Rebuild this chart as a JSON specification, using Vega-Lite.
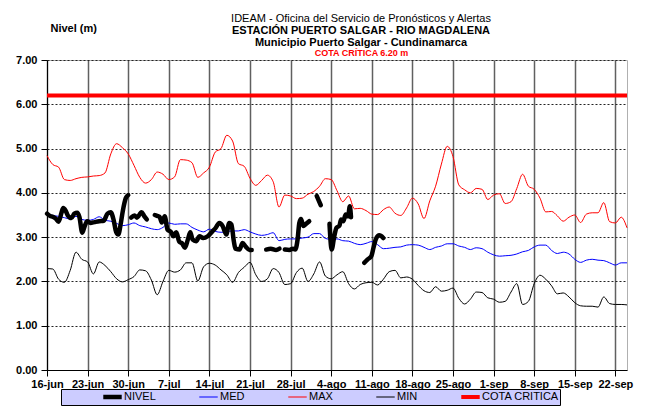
{
  "$schema": "https://vega.github.io/schema/vega-lite/v6.json",
  "width": 580,
  "height": 310,
  "autosize": {"type": "none"},
  "padding": {"left": 47, "top": 60, "right": 20, "bottom": 37},
  "background": "white",
  "title": {
    "text": "IDEAM - Oficina del Servicio de Pronósticos y Alertas",
    "subtitle": ["ESTACIÓN PUERTO SALGAR - RIO MAGDALENA", "Municipio Puerto Salgar - Cundinamarca"],
    "anchor": "middle",
    "frame": "group",
    "dx": 24,
    "offset": -26,
    "font": "Liberation Sans",
    "fontSize": 11,
    "fontWeight": "normal",
    "color": "black",
    "subtitleFont": "Liberation Sans",
    "subtitleFontSize": 11,
    "subtitleFontWeight": "bold",
    "subtitleColor": "black",
    "subtitleLineHeight": 12.5,
    "subtitlePadding": 1
  },
  "config": {
    "font": "Liberation Sans",
    "view": {"stroke": "#b0b0b0"},
    "axis": {"domainColor": "black", "tickColor": "black", "labelColor": "black", "titleColor": "black"},
    "legend": {
      "symbolType": "stroke",
      "symbolSize": 340,
      "clipHeight": 14,
      "labelFontSize": 11,
      "labelColor": "black",
      "labelOffset": 0,
      "columnPadding": 41,
      "padding": 1,
      "fillColor": "#ccccff",
      "strokeColor": "black",
      "titleOrient": "left",
      "titlePadding": 39,
      "titleFontSize": 11
    }
  },
  "encoding": {
    "x": {
      "field": "fecha",
      "type": "temporal",
      "scale": {"domain": [{"year": 2023, "month": 6, "date": 16}, {"year": 2023, "month": 9, "date": 24}]},
      "axis": {
        "values": [
          {"year": 2023, "month": 6, "date": 16}, {"year": 2023, "month": 6, "date": 23}, {"year": 2023, "month": 6, "date": 30},
          {"year": 2023, "month": 7, "date": 7}, {"year": 2023, "month": 7, "date": 14}, {"year": 2023, "month": 7, "date": 21},
          {"year": 2023, "month": 7, "date": 28}, {"year": 2023, "month": 8, "date": 4}, {"year": 2023, "month": 8, "date": 11},
          {"year": 2023, "month": 8, "date": 18}, {"year": 2023, "month": 8, "date": 25}, {"year": 2023, "month": 9, "date": 1},
          {"year": 2023, "month": 9, "date": 8}, {"year": 2023, "month": 9, "date": 15}, {"year": 2023, "month": 9, "date": 22}
        ],
        "labelExpr": "date(datum.value) + '-' + ['ene','feb','mar','abr','may','jun','jul','ago','sep','oct','nov','dic'][month(datum.value)]",
        "labelFontSize": 11,
        "labelFontWeight": "bold",
        "labelAngle": 0,
        "labelPadding": 2,
        "labelOverlap": false,
        "labelFlush": false,
        "tickSize": 6,
        "grid": true,
        "gridColor": "#606060",
        "gridWidth": 1.5,
        "title": "COTA CRÍTICA 6.20 m",
        "titleColor": "#ff0000",
        "titleFontSize": 9,
        "titleFontWeight": "bold",
        "titleX": 314,
        "titleY": -318,
        "titleAlign": "center",
        "titleBaseline": "middle"
      }
    },
    "y": {
      "field": "valor",
      "type": "quantitative",
      "scale": {"domain": [0, 7], "nice": false},
      "axis": {
        "values": [0, 1, 2, 3, 4, 5, 6, 7],
        "format": ".2f",
        "labelFontSize": 11,
        "labelFontWeight": "bold",
        "labelPadding": 4,
        "tickSize": 6,
        "grid": true,
        "gridColor": "#222222",
        "gridDash": [2, 2],
        "gridWidth": 1,
        "title": "Nivel (m)",
        "titleAngle": 0,
        "titleAlign": "left",
        "titleBaseline": "alphabetic",
        "titleX": 3,
        "titleY": -29,
        "titleFontSize": 11,
        "titleFontWeight": "bold"
      }
    },
    "color": {
      "field": "serie",
      "type": "nominal",
      "title": "\u00a0",
      "scale": {"domain": ["NIVEL", "MED", "MAX", "MIN", "COTA CRITICA"], "range": ["#000000", "#0000ff", "#ff0000", "#000000", "#ff0000"]},
      "legend": {"orient": "none", "legendX": 14, "legendY": 329, "direction": "horizontal", "columns": 5}
    },
    "strokeWidth": {
      "field": "serie",
      "type": "nominal",
      "title": "\u00a0",
      "scale": {"type": "ordinal", "domain": ["NIVEL", "MED", "MAX", "MIN", "COTA CRITICA"], "range": [4.5, 1, 1, 1, 4]},
      "legend": {"orient": "none", "legendX": 14, "legendY": 329, "direction": "horizontal", "columns": 5}
    }
  },
  "layer": [
    {
      "data": {"values": [
        {"fecha": "2023-06-16T00:00", "MED": 3.53, "MAX": 4.84, "MIN": 2.29},
        {"fecha": "2023-06-17T00:00", "MED": 3.49, "MAX": 4.64, "MIN": 2.28},
        {"fecha": "2023-06-18T00:00", "MED": 3.47, "MAX": 4.58, "MIN": 2.05},
        {"fecha": "2023-06-19T00:00", "MED": 3.44, "MAX": 4.30, "MIN": 1.98},
        {"fecha": "2023-06-20T00:00", "MED": 3.41, "MAX": 4.28, "MIN": 2.25},
        {"fecha": "2023-06-21T00:00", "MED": 3.47, "MAX": 4.32, "MIN": 2.66},
        {"fecha": "2023-06-22T00:00", "MED": 3.40, "MAX": 4.35, "MIN": 2.50},
        {"fecha": "2023-06-23T00:00", "MED": 3.38, "MAX": 4.36, "MIN": 2.44},
        {"fecha": "2023-06-24T00:00", "MED": 3.40, "MAX": 4.38, "MIN": 2.17},
        {"fecha": "2023-06-25T00:00", "MED": 3.46, "MAX": 4.39, "MIN": 2.44},
        {"fecha": "2023-06-26T00:00", "MED": 3.38, "MAX": 4.45, "MIN": 2.36},
        {"fecha": "2023-06-27T00:00", "MED": 3.36, "MAX": 4.88, "MIN": 2.22},
        {"fecha": "2023-06-28T00:00", "MED": 3.31, "MAX": 5.11, "MIN": 2.06},
        {"fecha": "2023-06-29T00:00", "MED": 3.26, "MAX": 5.02, "MIN": 1.99},
        {"fecha": "2023-06-30T00:00", "MED": 3.28, "MAX": 4.88, "MIN": 2.04},
        {"fecha": "2023-07-01T00:00", "MED": 3.32, "MAX": 4.62, "MIN": 2.11},
        {"fecha": "2023-07-02T00:00", "MED": 3.26, "MAX": 4.35, "MIN": 2.26},
        {"fecha": "2023-07-03T00:00", "MED": 3.23, "MAX": 4.22, "MIN": 2.24},
        {"fecha": "2023-07-04T00:00", "MED": 3.19, "MAX": 4.30, "MIN": 2.03},
        {"fecha": "2023-07-05T00:00", "MED": 3.17, "MAX": 4.47, "MIN": 1.70},
        {"fecha": "2023-07-06T00:00", "MED": 3.22, "MAX": 4.42, "MIN": 2.00},
        {"fecha": "2023-07-07T00:00", "MED": 3.32, "MAX": 4.30, "MIN": 2.25},
        {"fecha": "2023-07-08T00:00", "MED": 3.29, "MAX": 4.36, "MIN": 2.21},
        {"fecha": "2023-07-09T00:00", "MED": 3.30, "MAX": 4.75, "MIN": 2.26},
        {"fecha": "2023-07-10T00:00", "MED": 3.30, "MAX": 4.74, "MIN": 2.42},
        {"fecha": "2023-07-11T00:00", "MED": 3.22, "MAX": 4.68, "MIN": 2.42},
        {"fecha": "2023-07-12T00:00", "MED": 3.16, "MAX": 4.35, "MIN": 2.01},
        {"fecha": "2023-07-13T00:00", "MED": 3.12, "MAX": 4.45, "MIN": 2.33},
        {"fecha": "2023-07-14T00:00", "MED": 3.18, "MAX": 4.58, "MIN": 2.41},
        {"fecha": "2023-07-15T00:00", "MED": 3.13, "MAX": 4.92, "MIN": 2.37},
        {"fecha": "2023-07-16T00:00", "MED": 3.11, "MAX": 5.00, "MIN": 2.26},
        {"fecha": "2023-07-17T00:00", "MED": 3.12, "MAX": 5.30, "MIN": 2.15},
        {"fecha": "2023-07-18T00:00", "MED": 3.14, "MAX": 5.17, "MIN": 1.98},
        {"fecha": "2023-07-19T00:00", "MED": 3.14, "MAX": 4.66, "MIN": 2.20},
        {"fecha": "2023-07-20T00:00", "MED": 3.17, "MAX": 4.60, "MIN": 2.32},
        {"fecha": "2023-07-21T00:00", "MED": 3.12, "MAX": 4.33, "MIN": 2.43},
        {"fecha": "2023-07-22T00:00", "MED": 3.07, "MAX": 4.17, "MIN": 2.15},
        {"fecha": "2023-07-23T00:00", "MED": 3.04, "MAX": 4.28, "MIN": 2.00},
        {"fecha": "2023-07-24T00:00", "MED": 3.06, "MAX": 4.40, "MIN": 2.06},
        {"fecha": "2023-07-25T00:00", "MED": 3.10, "MAX": 4.25, "MIN": 2.29},
        {"fecha": "2023-07-26T00:00", "MED": 2.92, "MAX": 3.68, "MIN": 2.20},
        {"fecha": "2023-07-27T00:00", "MED": 2.95, "MAX": 3.95, "MIN": 1.93},
        {"fecha": "2023-07-28T00:00", "MED": 2.96, "MAX": 3.93, "MIN": 1.95},
        {"fecha": "2023-07-29T00:00", "MED": 2.96, "MAX": 3.87, "MIN": 2.20},
        {"fecha": "2023-07-30T00:00", "MED": 2.98, "MAX": 3.88, "MIN": 2.30},
        {"fecha": "2023-07-31T00:00", "MED": 3.00, "MAX": 3.97, "MIN": 2.00},
        {"fecha": "2023-08-01T00:00", "MED": 3.08, "MAX": 4.03, "MIN": 2.17},
        {"fecha": "2023-08-02T00:00", "MED": 3.08, "MAX": 4.15, "MIN": 2.44},
        {"fecha": "2023-08-03T00:00", "MED": 2.97, "MAX": 4.32, "MIN": 2.12},
        {"fecha": "2023-08-04T00:00", "MED": 2.95, "MAX": 4.30, "MIN": 2.06},
        {"fecha": "2023-08-05T00:00", "MED": 2.96, "MAX": 4.05, "MIN": 2.15},
        {"fecha": "2023-08-06T00:00", "MED": 2.92, "MAX": 3.80, "MIN": 2.22},
        {"fecha": "2023-08-07T00:00", "MED": 2.91, "MAX": 3.93, "MIN": 1.95},
        {"fecha": "2023-08-08T00:00", "MED": 2.86, "MAX": 3.64, "MIN": 1.83},
        {"fecha": "2023-08-09T00:00", "MED": 2.83, "MAX": 3.65, "MIN": 1.93},
        {"fecha": "2023-08-10T00:00", "MED": 2.86, "MAX": 3.60, "MIN": 1.97},
        {"fecha": "2023-08-11T00:00", "MED": 2.90, "MAX": 3.52, "MIN": 1.98},
        {"fecha": "2023-08-12T00:00", "MED": 2.83, "MAX": 3.51, "MIN": 1.92},
        {"fecha": "2023-08-13T00:00", "MED": 2.74, "MAX": 3.62, "MIN": 2.05},
        {"fecha": "2023-08-14T00:00", "MED": 2.75, "MAX": 3.68, "MIN": 2.22},
        {"fecha": "2023-08-15T00:00", "MED": 2.77, "MAX": 3.54, "MIN": 2.25},
        {"fecha": "2023-08-16T00:00", "MED": 2.78, "MAX": 3.49, "MIN": 2.08},
        {"fecha": "2023-08-17T00:00", "MED": 2.82, "MAX": 3.66, "MIN": 2.10},
        {"fecha": "2023-08-18T00:00", "MED": 2.83, "MAX": 3.88, "MIN": 2.05},
        {"fecha": "2023-08-19T00:00", "MED": 2.82, "MAX": 3.75, "MIN": 1.91},
        {"fecha": "2023-08-20T00:00", "MED": 2.77, "MAX": 3.42, "MIN": 1.79},
        {"fecha": "2023-08-21T00:00", "MED": 2.72, "MAX": 3.82, "MIN": 1.75},
        {"fecha": "2023-08-22T00:00", "MED": 2.77, "MAX": 4.15, "MIN": 1.88},
        {"fecha": "2023-08-23T00:00", "MED": 2.80, "MAX": 4.65, "MIN": 1.78},
        {"fecha": "2023-08-24T00:00", "MED": 2.85, "MAX": 5.05, "MIN": 1.80},
        {"fecha": "2023-08-25T00:00", "MED": 2.85, "MAX": 4.82, "MIN": 1.85},
        {"fecha": "2023-08-26T00:00", "MED": 2.80, "MAX": 4.18, "MIN": 1.62},
        {"fecha": "2023-08-27T00:00", "MED": 2.77, "MAX": 4.07, "MIN": 1.49},
        {"fecha": "2023-08-28T00:00", "MED": 2.72, "MAX": 4.00, "MIN": 1.60},
        {"fecha": "2023-08-29T00:00", "MED": 2.76, "MAX": 4.10, "MIN": 1.76},
        {"fecha": "2023-08-30T00:00", "MED": 2.74, "MAX": 4.08, "MIN": 1.75},
        {"fecha": "2023-08-31T00:00", "MED": 2.66, "MAX": 3.85, "MIN": 1.63},
        {"fecha": "2023-09-01T00:00", "MED": 2.60, "MAX": 3.95, "MIN": 1.60},
        {"fecha": "2023-09-02T00:00", "MED": 2.57, "MAX": 3.98, "MIN": 1.53},
        {"fecha": "2023-09-03T00:00", "MED": 2.58, "MAX": 3.76, "MIN": 1.55},
        {"fecha": "2023-09-04T00:00", "MED": 2.59, "MAX": 3.80, "MIN": 1.76},
        {"fecha": "2023-09-05T00:00", "MED": 2.62, "MAX": 4.10, "MIN": 1.95},
        {"fecha": "2023-09-06T00:00", "MED": 2.67, "MAX": 4.42, "MIN": 1.48},
        {"fecha": "2023-09-07T00:00", "MED": 2.70, "MAX": 4.15, "MIN": 1.55},
        {"fecha": "2023-09-08T00:00", "MED": 2.78, "MAX": 4.08, "MIN": 1.95},
        {"fecha": "2023-09-09T00:00", "MED": 2.82, "MAX": 3.88, "MIN": 2.14},
        {"fecha": "2023-09-10T00:00", "MED": 2.82, "MAX": 3.57, "MIN": 2.05},
        {"fecha": "2023-09-11T00:00", "MED": 2.70, "MAX": 3.58, "MIN": 1.90},
        {"fecha": "2023-09-12T00:00", "MED": 2.63, "MAX": 3.48, "MIN": 1.72},
        {"fecha": "2023-09-13T00:00", "MED": 2.66, "MAX": 3.36, "MIN": 1.74},
        {"fecha": "2023-09-14T00:00", "MED": 2.62, "MAX": 3.45, "MIN": 1.65},
        {"fecha": "2023-09-15T00:00", "MED": 2.50, "MAX": 3.50, "MIN": 1.52},
        {"fecha": "2023-09-16T00:00", "MED": 2.43, "MAX": 3.33, "MIN": 1.45},
        {"fecha": "2023-09-17T00:00", "MED": 2.48, "MAX": 3.52, "MIN": 1.44},
        {"fecha": "2023-09-18T00:00", "MED": 2.50, "MAX": 3.55, "MIN": 1.44},
        {"fecha": "2023-09-19T00:00", "MED": 2.48, "MAX": 3.55, "MIN": 1.42},
        {"fecha": "2023-09-20T00:00", "MED": 2.47, "MAX": 3.78, "MIN": 1.65},
        {"fecha": "2023-09-21T00:00", "MED": 2.42, "MAX": 3.35, "MIN": 1.50},
        {"fecha": "2023-09-22T00:00", "MED": 2.37, "MAX": 3.32, "MIN": 1.48},
        {"fecha": "2023-09-23T00:00", "MED": 2.42, "MAX": 3.45, "MIN": 1.48},
        {"fecha": "2023-09-24T00:00", "MED": 2.42, "MAX": 3.21, "MIN": 1.47}
      ]},
      "transform": [{"fold": ["MED", "MAX", "MIN"], "as": ["serie", "valor"]}],
      "mark": {"type": "line", "interpolate": "monotone"}
    },
    {
      "data": {"values": [
        {"fecha": "2023-06-16T00:00", "COTA CRITICA": 6.2},
        {"fecha": "2023-09-24T00:00", "COTA CRITICA": 6.2}
      ]},
      "transform": [{"fold": ["COTA CRITICA"], "as": ["serie", "valor"]}],
      "mark": {"type": "line"}
    },
    {
      "data": {"values": [
        {"fecha": "2023-06-16T00:00", "tramo": "a", "NIVEL": 3.53},
        {"fecha": "2023-06-16T12:00", "tramo": "a", "NIVEL": 3.48},
        {"fecha": "2023-06-17T00:00", "tramo": "a", "NIVEL": 3.46},
        {"fecha": "2023-06-17T12:00", "tramo": "a", "NIVEL": 3.42},
        {"fecha": "2023-06-18T00:00", "tramo": "a", "NIVEL": 3.35},
        {"fecha": "2023-06-18T12:00", "tramo": "a", "NIVEL": 3.55},
        {"fecha": "2023-06-18T19:00", "tramo": "a", "NIVEL": 3.66},
        {"fecha": "2023-06-19T05:00", "tramo": "a", "NIVEL": 3.60},
        {"fecha": "2023-06-19T14:00", "tramo": "a", "NIVEL": 3.49},
        {"fecha": "2023-06-20T05:00", "tramo": "a", "NIVEL": 3.43},
        {"fecha": "2023-06-20T17:00", "tramo": "a", "NIVEL": 3.53},
        {"fecha": "2023-06-21T05:00", "tramo": "a", "NIVEL": 3.55},
        {"fecha": "2023-06-21T14:00", "tramo": "a", "NIVEL": 3.46},
        {"fecha": "2023-06-22T02:00", "tramo": "a", "NIVEL": 3.10},
        {"fecha": "2023-06-22T12:00", "tramo": "a", "NIVEL": 3.25},
        {"fecha": "2023-06-22T22:00", "tramo": "a", "NIVEL": 3.36},
        {"fecha": "2023-06-23T12:00", "tramo": "a", "NIVEL": 3.32},
        {"fecha": "2023-06-24T05:00", "tramo": "a", "NIVEL": 3.34},
        {"fecha": "2023-06-25T00:00", "tramo": "a", "NIVEL": 3.36},
        {"fecha": "2023-06-25T19:00", "tramo": "a", "NIVEL": 3.37},
        {"fecha": "2023-06-26T10:00", "tramo": "a", "NIVEL": 3.53},
        {"fecha": "2023-06-27T00:00", "tramo": "a", "NIVEL": 3.56},
        {"fecha": "2023-06-27T12:00", "tramo": "a", "NIVEL": 3.38},
        {"fecha": "2023-06-27T22:00", "tramo": "a", "NIVEL": 3.12},
        {"fecha": "2023-06-28T07:00", "tramo": "a", "NIVEL": 3.06},
        {"fecha": "2023-06-28T17:00", "tramo": "a", "NIVEL": 3.30},
        {"fecha": "2023-06-29T02:00", "tramo": "a", "NIVEL": 3.60},
        {"fecha": "2023-06-29T14:00", "tramo": "a", "NIVEL": 3.88},
        {"fecha": "2023-06-30T00:00", "tramo": "a", "NIVEL": 3.95},
        {"fecha": "2023-06-30T12:00", "tramo": "b", "NIVEL": 3.44},
        {"fecha": "2023-07-01T02:00", "tramo": "b", "NIVEL": 3.49},
        {"fecha": "2023-07-01T12:00", "tramo": "b", "NIVEL": 3.44},
        {"fecha": "2023-07-02T07:00", "tramo": "b", "NIVEL": 3.56},
        {"fecha": "2023-07-02T19:00", "tramo": "b", "NIVEL": 3.47},
        {"fecha": "2023-07-03T05:00", "tramo": "b", "NIVEL": 3.40},
        {"fecha": "2023-07-04T14:00", "tramo": "c", "NIVEL": 3.50},
        {"fecha": "2023-07-05T00:00", "tramo": "c", "NIVEL": 3.48},
        {"fecha": "2023-07-05T10:00", "tramo": "c", "NIVEL": 3.46},
        {"fecha": "2023-07-05T19:00", "tramo": "c", "NIVEL": 3.33},
        {"fecha": "2023-07-06T07:00", "tramo": "c", "NIVEL": 3.47},
        {"fecha": "2023-07-06T19:00", "tramo": "c", "NIVEL": 3.17},
        {"fecha": "2023-07-07T10:00", "tramo": "c", "NIVEL": 3.11},
        {"fecha": "2023-07-07T19:00", "tramo": "c", "NIVEL": 3.02},
        {"fecha": "2023-07-08T07:00", "tramo": "c", "NIVEL": 3.11},
        {"fecha": "2023-07-08T19:00", "tramo": "c", "NIVEL": 2.90},
        {"fecha": "2023-07-09T07:00", "tramo": "c", "NIVEL": 2.86},
        {"fecha": "2023-07-09T19:00", "tramo": "c", "NIVEL": 2.76},
        {"fecha": "2023-07-10T07:00", "tramo": "c", "NIVEL": 2.95},
        {"fecha": "2023-07-10T17:00", "tramo": "c", "NIVEL": 3.11},
        {"fecha": "2023-07-11T02:00", "tramo": "c", "NIVEL": 2.95},
        {"fecha": "2023-07-11T17:00", "tramo": "c", "NIVEL": 2.91},
        {"fecha": "2023-07-12T07:00", "tramo": "c", "NIVEL": 3.02},
        {"fecha": "2023-07-12T22:00", "tramo": "c", "NIVEL": 2.98},
        {"fecha": "2023-07-13T17:00", "tramo": "c", "NIVEL": 3.02},
        {"fecha": "2023-07-14T14:00", "tramo": "c", "NIVEL": 3.14},
        {"fecha": "2023-07-15T02:00", "tramo": "c", "NIVEL": 3.21},
        {"fecha": "2023-07-15T17:00", "tramo": "c", "NIVEL": 3.32},
        {"fecha": "2023-07-16T07:00", "tramo": "c", "NIVEL": 3.25},
        {"fecha": "2023-07-16T22:00", "tramo": "c", "NIVEL": 3.06},
        {"fecha": "2023-07-17T10:00", "tramo": "c", "NIVEL": 3.32},
        {"fecha": "2023-07-17T19:00", "tramo": "c", "NIVEL": 3.29},
        {"fecha": "2023-07-18T05:00", "tramo": "c", "NIVEL": 2.91},
        {"fecha": "2023-07-18T12:00", "tramo": "c", "NIVEL": 2.74},
        {"fecha": "2023-07-19T05:00", "tramo": "c", "NIVEL": 2.72},
        {"fecha": "2023-07-19T17:00", "tramo": "c", "NIVEL": 2.87},
        {"fecha": "2023-07-20T07:00", "tramo": "c", "NIVEL": 2.78},
        {"fecha": "2023-07-20T22:00", "tramo": "c", "NIVEL": 2.71},
        {"fecha": "2023-07-21T07:00", "tramo": "c", "NIVEL": 2.71},
        {"fecha": "2023-07-23T19:00", "tramo": "d", "NIVEL": 2.72},
        {"fecha": "2023-07-24T14:00", "tramo": "d", "NIVEL": 2.74},
        {"fecha": "2023-07-25T12:00", "tramo": "d", "NIVEL": 2.71},
        {"fecha": "2023-07-26T02:00", "tramo": "d", "NIVEL": 2.74},
        {"fecha": "2023-07-27T00:00", "tramo": "e", "NIVEL": 2.72},
        {"fecha": "2023-07-27T19:00", "tramo": "e", "NIVEL": 2.71},
        {"fecha": "2023-07-28T10:00", "tramo": "e", "NIVEL": 2.74},
        {"fecha": "2023-07-28T19:00", "tramo": "e", "NIVEL": 2.72},
        {"fecha": "2023-07-29T05:00", "tramo": "e", "NIVEL": 2.95},
        {"fecha": "2023-07-29T12:00", "tramo": "e", "NIVEL": 3.32},
        {"fecha": "2023-07-29T19:00", "tramo": "e", "NIVEL": 3.41},
        {"fecha": "2023-07-30T05:00", "tramo": "e", "NIVEL": 3.25},
        {"fecha": "2023-07-30T14:00", "tramo": "e", "NIVEL": 3.29},
        {"fecha": "2023-07-31T05:00", "tramo": "e", "NIVEL": 3.36},
        {"fecha": "2023-08-01T12:00", "tramo": "f", "NIVEL": 3.93},
        {"fecha": "2023-08-02T05:00", "tramo": "f", "NIVEL": 3.72},
        {"fecha": "2023-08-03T17:00", "tramo": "g", "NIVEL": 3.30},
        {"fecha": "2023-08-04T02:00", "tramo": "g", "NIVEL": 2.72},
        {"fecha": "2023-08-04T12:00", "tramo": "g", "NIVEL": 3.00},
        {"fecha": "2023-08-04T22:00", "tramo": "g", "NIVEL": 3.21},
        {"fecha": "2023-08-05T10:00", "tramo": "g", "NIVEL": 3.26},
        {"fecha": "2023-08-05T17:00", "tramo": "g", "NIVEL": 3.40},
        {"fecha": "2023-08-06T02:00", "tramo": "g", "NIVEL": 3.36},
        {"fecha": "2023-08-06T12:00", "tramo": "g", "NIVEL": 3.51},
        {"fecha": "2023-08-06T22:00", "tramo": "g", "NIVEL": 3.47},
        {"fecha": "2023-08-07T05:00", "tramo": "g", "NIVEL": 3.70},
        {"fecha": "2023-08-07T10:00", "tramo": "g", "NIVEL": 3.45},
        {"fecha": "2023-08-09T17:00", "tramo": "h", "NIVEL": 2.42},
        {"fecha": "2023-08-10T07:00", "tramo": "h", "NIVEL": 2.50},
        {"fecha": "2023-08-10T22:00", "tramo": "h", "NIVEL": 2.57},
        {"fecha": "2023-08-11T07:00", "tramo": "h", "NIVEL": 2.76},
        {"fecha": "2023-08-11T17:00", "tramo": "h", "NIVEL": 2.96},
        {"fecha": "2023-08-12T07:00", "tramo": "h", "NIVEL": 3.04},
        {"fecha": "2023-08-13T00:00", "tramo": "h", "NIVEL": 2.98}
      ]},
      "transform": [{"fold": ["NIVEL"], "as": ["serie", "valor"]}],
      "mark": {"type": "line", "interpolate": "monotone", "strokeCap": "round", "strokeJoin": "round"},
      "encoding": {"detail": {"field": "tramo", "type": "nominal"}}
    }
  ]
}
